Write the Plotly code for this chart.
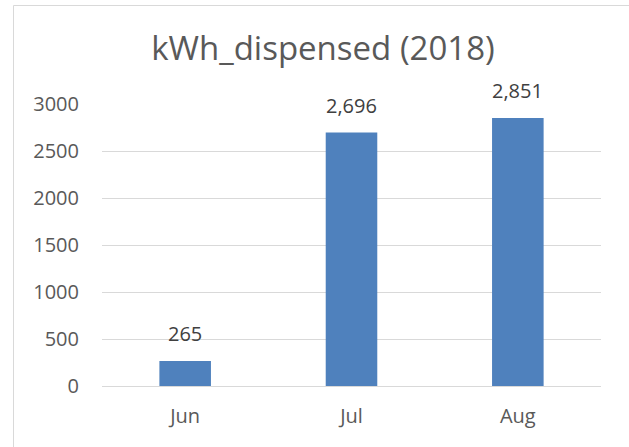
import plotly.graph_objects as go

months = ["Jun", "Jul", "Aug"]
kwh = [265, 2696, 2851]
y_ticks = [0, 500, 1000, 1500, 2000, 2500, 3000]
title = "kWh_dispensed (2018)"

W, H = 629, 447
L, R, T, B = 102, 28, 104, 61
pw, ph = W - L - R, H - T - B

def px(x):
    return (x - L) / pw

def py(y):
    return (H - B - y) / ph

fig = go.Figure(go.Bar(
    x=months, y=kwh,
    marker=dict(color="#4f81bd", line=dict(width=0)),
    hoverinfo="x+y",
))

for m, v in zip(months, kwh):
    fig.add_annotation(x=m, y=v, text=f"{v:,}", showarrow=False,
                       yanchor="bottom", yshift=12,
                       font=dict(size=20, color="#404040", family="Open Sans"))

fig.update_layout(
    width=W, height=H,
    margin=dict(l=L, r=R, t=T, b=B),
    paper_bgcolor="white", plot_bgcolor="white",
    font=dict(family="Open Sans", color="#595959"),
    bargap=0.69,
    showlegend=False,
    title=dict(text=title, x=323 / W, xref="container", xanchor="center",
               y=1 - 48 / H, yref="container", yanchor="middle",
               font=dict(size=33, color="#595959", family="Open Sans")),
    xaxis=dict(showgrid=False, showline=False, ticks="", tickfont=dict(size=20),
               ticklabelstandoff=16),
    yaxis=dict(range=[0, 3000], tickvals=y_ticks, showgrid=True, gridcolor="#d9d9d9",
               gridwidth=1, zeroline=True, zerolinecolor="#d9d9d9", zerolinewidth=1,
               showline=False, ticks="", tickfont=dict(size=20), ticklabelstandoff=22),
    shapes=[dict(type="rect", xref="paper", yref="paper",
                 x0=px(13.5), x1=px(660), y0=py(480), y1=py(5.5),
                 line=dict(color="#d9d9d9", width=1), fillcolor="rgba(0,0,0,0)")],
)

fig.write_html("out.html", config={"displayModeBar": False},
               post_script="document.body.style.margin='0px';")
